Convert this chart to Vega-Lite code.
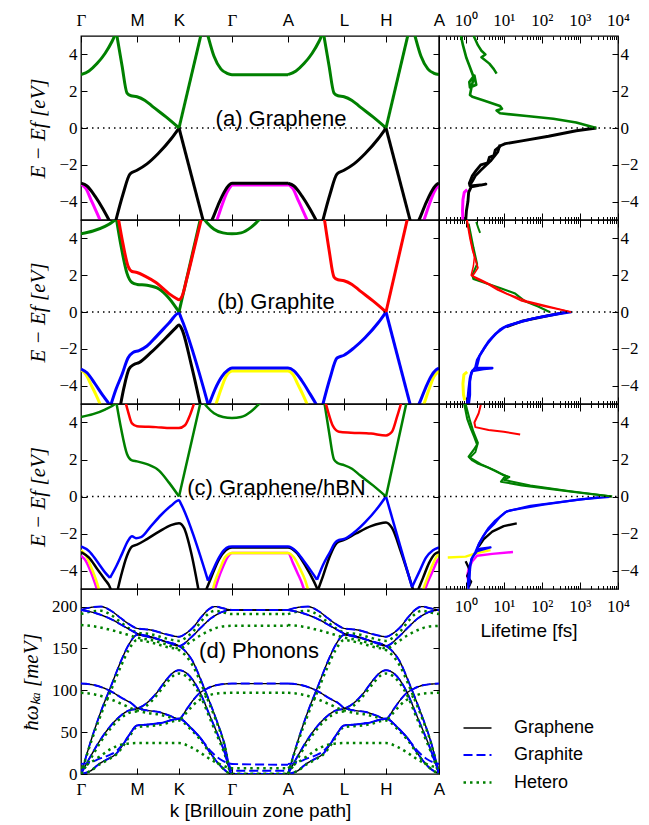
{
"$schema": "https://vega.github.io/schema/vega-lite/v6.json",
"background": "white",
"autosize": {"type": "pad"},
"padding": {"left": 19, "top": 6, "right": 5, "bottom": 5},
"config": {
 "view": {"stroke": "black", "strokeWidth": 1.3},
 "axis": {"domain": false, "grid": false, "tickColor": "black", "tickWidth": 1, "labelColor": "black", "titleColor": "black", "labelFont": "Liberation Serif", "labelFontSize": 17, "titleFontWeight": "normal", "labelOverlap": false, "labelFlush": false}
},
"datasets": {
 "A": [
  {"c":"a8","k":0,"e":-3.05},{"c":"a8","k":5,"e":-3.3},{"c":"a8","k":10,"e":-3.9},{"c":"a8","k":15,"e":-4.5},{"c":"a8","k":19,"e":-5},{"c":"a8","k":21,"e":-5.3},
  {"c":"a10","k":134,"e":-5.3},{"c":"a10","k":136,"e":-5},{"c":"a10","k":141,"e":-4.2},{"c":"a10","k":146,"e":-3.5},{"c":"a10","k":150,"e":-3.15},{"c":"a10","k":151,"e":-3.1},{"c":"a10","k":207,"e":-3.1},
  {"c":"a7","k":0,"e":-3.0},{"c":"a7","k":6,"e":-3.15},{"c":"a7","k":14,"e":-3.7},{"c":"a7","k":22,"e":-4.4},{"c":"a7","k":28,"e":-5},{"c":"a7","k":31,"e":-5.3},
  {"c":"a9","k":128,"e":-5.3},{"c":"a9","k":131,"e":-5},{"c":"a9","k":137,"e":-4.2},{"c":"a9","k":143,"e":-3.5},{"c":"a9","k":148,"e":-3.1},{"c":"a9","k":151,"e":-3.0},{"c":"a9","k":207,"e":-3.0},
  {"c":"a5","k":34,"e":-5.2},{"c":"a5","k":42,"e":-3.6},{"c":"a5","k":49,"e":-2.5},{"c":"a5","k":56,"e":-2.3},{"c":"a5","k":66,"e":-1.95},{"c":"a5","k":77,"e":-1.4},{"c":"a5","k":90,"e":-0.6},{"c":"a5","k":98,"e":0},
  {"c":"a6","k":98,"e":0},{"c":"a6","k":123,"e":-5.2},
  {"c":"a1","k":0,"e":2.9},{"c":"a1","k":8,"e":3.1},{"c":"a1","k":16,"e":3.5},{"c":"a1","k":24,"e":4.05},{"c":"a1","k":31,"e":4.7},{"c":"a1","k":36,"e":5.3},
  {"c":"a2","k":35,"e":5.3},{"c":"a2","k":41,"e":3.4},{"c":"a2","k":46,"e":1.9},{"c":"a2","k":50,"e":1.75},{"c":"a2","k":56,"e":1.7},{"c":"a2","k":64,"e":1.5},{"c":"a2","k":72,"e":1.15},{"c":"a2","k":85,"e":0.6},{"c":"a2","k":98,"e":0},
  {"c":"a3","k":98,"e":0},{"c":"a3","k":121,"e":5.3},
  {"c":"a4","k":124,"e":5.6},{"c":"a4","k":127,"e":5},{"c":"a4","k":133,"e":3.9},{"c":"a4","k":140,"e":3.2},{"c":"a4","k":146,"e":2.97},{"c":"a4","k":151,"e":2.9},{"c":"a4","k":207,"e":2.9}
 ],
 "B": [
  {"c":"b9","k":0,"e":-3.15},{"c":"b9","k":5,"e":-3.4},{"c":"b9","k":10,"e":-3.95},{"c":"b9","k":15,"e":-4.5},{"c":"b9","k":19,"e":-5},{"c":"b9","k":21,"e":-5.3},
  {"c":"b11","k":133,"e":-5.3},{"c":"b11","k":135,"e":-5},{"c":"b11","k":140,"e":-4.2},{"c":"b11","k":145,"e":-3.5},{"c":"b11","k":149,"e":-3.25},{"c":"b11","k":151,"e":-3.2},{"c":"b11","k":207,"e":-3.2},{"c":"b11","k":212,"e":-3.4},{"c":"b11","k":217,"e":-3.95},{"c":"b11","k":222,"e":-4.5},{"c":"b11","k":226,"e":-5},{"c":"b11","k":228,"e":-5.3},
  {"c":"b17","k":341,"e":-5.3},{"c":"b17","k":343,"e":-5},{"c":"b17","k":348,"e":-4.2},{"c":"b17","k":353,"e":-3.5},{"c":"b17","k":357,"e":-3.25},{"c":"b17","k":358,"e":-3.2},
  {"c":"b7","k":39,"e":-5.2},{"c":"b7","k":43,"e":-4.1},{"c":"b7","k":48,"e":-3.1},{"c":"b7","k":53,"e":-2.85},{"c":"b7","k":58,"e":-2.75},{"c":"b7","k":70,"e":-2.2},{"c":"b7","k":85,"e":-1.4},{"c":"b7","k":95,"e":-0.85},{"c":"b7","k":98,"e":-0.7},{"c":"b7","k":101,"e":-0.95},{"c":"b7","k":110,"e":-2.8},{"c":"b7","k":120,"e":-5.2},
  {"c":"b8","k":0,"e":-3.1},{"c":"b8","k":6,"e":-3.3},{"c":"b8","k":14,"e":-3.9},{"c":"b8","k":22,"e":-4.55},{"c":"b8","k":28,"e":-5},{"c":"b8","k":31,"e":-5.3},
  {"c":"b10","k":125,"e":-5.3},{"c":"b10","k":128,"e":-5},{"c":"b10","k":134,"e":-4.2},{"c":"b10","k":141,"e":-3.5},{"c":"b10","k":147,"e":-3.15},{"c":"b10","k":151,"e":-3.05},{"c":"b10","k":207,"e":-3.05},{"c":"b10","k":213,"e":-3.2},{"c":"b10","k":221,"e":-3.75},{"c":"b10","k":229,"e":-4.45},{"c":"b10","k":235,"e":-5},{"c":"b10","k":238,"e":-5.3},
  {"c":"b16","k":335,"e":-5.3},{"c":"b16","k":338,"e":-5},{"c":"b16","k":344,"e":-4.2},{"c":"b16","k":350,"e":-3.5},{"c":"b16","k":355,"e":-3.15},{"c":"b16","k":358,"e":-3.05},
  {"c":"b6","k":29,"e":-5.2},{"c":"b6","k":35,"e":-4.2},{"c":"b6","k":41,"e":-3.4},{"c":"b6","k":47,"e":-2.5},{"c":"b6","k":52,"e":-2.2},{"c":"b6","k":58,"e":-2.1},{"c":"b6","k":66,"e":-1.85},{"c":"b6","k":75,"e":-1.35},{"c":"b6","k":88,"e":-0.6},{"c":"b6","k":98,"e":-0.05},{"c":"b6","k":100,"e":-0.3},{"c":"b6","k":128,"e":-5.2},
  {"c":"b14","k":241,"e":-5.2},{"c":"b14","k":249,"e":-3.6},{"c":"b14","k":256,"e":-2.5},{"c":"b14","k":263,"e":-2.35},{"c":"b14","k":273,"e":-1.95},{"c":"b14","k":284,"e":-1.4},{"c":"b14","k":297,"e":-0.6},{"c":"b14","k":305,"e":0},
  {"c":"b15","k":305,"e":0},{"c":"b15","k":330,"e":-5.2},
  {"c":"b1","k":0,"e":4.25},{"c":"b1","k":12,"e":4.4},{"c":"b1","k":24,"e":4.65},{"c":"b1","k":34,"e":5},{"c":"b1","k":38,"e":5.2},
  {"c":"b2","k":121,"e":5.2},{"c":"b2","k":126,"e":4.85},{"c":"b2","k":133,"e":4.5},{"c":"b2","k":142,"e":4.3},{"c":"b2","k":151,"e":4.25},{"c":"b2","k":160,"e":4.3},{"c":"b2","k":170,"e":4.6},{"c":"b2","k":178,"e":5},{"c":"b2","k":182,"e":5.2},
  {"c":"b4","k":35,"e":5.2},{"c":"b4","k":40,"e":3.6},{"c":"b4","k":46,"e":2.1},{"c":"b4","k":51,"e":1.6},{"c":"b4","k":56,"e":1.5},{"c":"b4","k":66,"e":1.45},{"c":"b4","k":78,"e":1.25},{"c":"b4","k":88,"e":0.75},{"c":"b4","k":98,"e":0},
  {"c":"b5","k":98,"e":0},{"c":"b5","k":120,"e":5.2},
  {"c":"b3","k":37,"e":5.2},{"c":"b3","k":42,"e":3.7},{"c":"b3","k":47,"e":2.5},{"c":"b3","k":51,"e":2.2},{"c":"b3","k":56,"e":2.15},{"c":"b3","k":64,"e":1.95},{"c":"b3","k":75,"e":1.6},{"c":"b3","k":88,"e":1.0},{"c":"b3","k":95,"e":0.75},{"c":"b3","k":98,"e":0.67},{"c":"b3","k":101,"e":0.85},{"c":"b3","k":106,"e":1.85},{"c":"b3","k":113,"e":3.4},{"c":"b3","k":121,"e":5.2},
  {"c":"b12","k":243,"e":5.2},{"c":"b12","k":248,"e":3.4},{"c":"b12","k":253,"e":1.9},{"c":"b12","k":257,"e":1.75},{"c":"b12","k":263,"e":1.7},{"c":"b12","k":271,"e":1.5},{"c":"b12","k":279,"e":1.15},{"c":"b12","k":292,"e":0.6},{"c":"b12","k":305,"e":0},
  {"c":"b13","k":305,"e":0},{"c":"b13","k":327,"e":5.2}
 ],
 "C": [
  {"c":"c9","k":0,"e":-3.2},{"c":"c9","k":5,"e":-3.5},{"c":"c9","k":10,"e":-4.1},{"c":"c9","k":14,"e":-4.7},{"c":"c9","k":17,"e":-5.2},
  {"c":"c14","k":133,"e":-5.2},{"c":"c14","k":137,"e":-4.5},{"c":"c14","k":142,"e":-3.8},{"c":"c14","k":147,"e":-3.25},{"c":"c14","k":151,"e":-3.05},{"c":"c14","k":207,"e":-3.05},{"c":"c14","k":212,"e":-3.6},{"c":"c14","k":217,"e":-4.2},{"c":"c14","k":221,"e":-4.7},{"c":"c14","k":224,"e":-5.2},
  {"c":"c25","k":343,"e":-5.2},{"c":"c25","k":347,"e":-4.6},{"c":"c25","k":352,"e":-4.0},{"c":"c25","k":356,"e":-3.5},{"c":"c25","k":358,"e":-3.35},
  {"c":"c8","k":0,"e":-2.9},{"c":"c8","k":5,"e":-3.2},{"c":"c8","k":10,"e":-3.8},{"c":"c8","k":15,"e":-4.5},{"c":"c8","k":19,"e":-5.2},
  {"c":"c13","k":131,"e":-5.2},{"c":"c13","k":134,"e":-4.6},{"c":"c13","k":139,"e":-3.9},{"c":"c13","k":144,"e":-3.3},{"c":"c13","k":148,"e":-3.1},{"c":"c13","k":151,"e":-3.05},{"c":"c13","k":207,"e":-3.05},{"c":"c13","k":213,"e":-3.3},{"c":"c13","k":219,"e":-3.9},{"c":"c13","k":224,"e":-4.5},{"c":"c13","k":228,"e":-5.2},
  {"c":"c24","k":341,"e":-5.2},{"c":"c24","k":345,"e":-4.6},{"c":"c24","k":350,"e":-3.9},{"c":"c24","k":355,"e":-3.3},{"c":"c24","k":358,"e":-3.1},
  {"c":"c6","k":0,"e":-3.0},{"c":"c6","k":8,"e":-3.3},{"c":"c6","k":16,"e":-3.9},{"c":"c6","k":24,"e":-4.5},{"c":"c6","k":28,"e":-4.8},{"c":"c6","k":31,"e":-5.2},
  {"c":"c7","k":36,"e":-5.2},{"c":"c7","k":40,"e":-4.3},{"c":"c7","k":46,"e":-3.2},{"c":"c7","k":51,"e":-2.7},{"c":"c7","k":56,"e":-2.6},{"c":"c7","k":66,"e":-2.3},{"c":"c7","k":78,"e":-1.9},{"c":"c7","k":90,"e":-1.55},{"c":"c7","k":98,"e":-1.45},{"c":"c7","k":103,"e":-1.7},{"c":"c7","k":110,"e":-3.0},{"c":"c7","k":118,"e":-5.2},
  {"c":"c15","k":124,"e":-5.2},{"c":"c15","k":130,"e":-4.4},{"c":"c15","k":138,"e":-3.4},{"c":"c15","k":145,"e":-2.9},{"c":"c15","k":151,"e":-2.75},{"c":"c15","k":207,"e":-2.75},{"c":"c15","k":215,"e":-3.0},{"c":"c15","k":225,"e":-3.8},{"c":"c15","k":233,"e":-4.6},{"c":"c15","k":238,"e":-5.2},
  {"c":"c22","k":236,"e":-5.2},{"c":"c22","k":242,"e":-4.3},{"c":"c22","k":249,"e":-3.2},{"c":"c22","k":256,"e":-2.5},{"c":"c22","k":263,"e":-2.35},{"c":"c22","k":275,"e":-2.0},{"c":"c22","k":290,"e":-1.6},{"c":"c22","k":305,"e":-1.4},{"c":"c22","k":311,"e":-1.7},{"c":"c22","k":320,"e":-3.0},{"c":"c22","k":333,"e":-5.2},
  {"c":"c23","k":336,"e":-5.2},{"c":"c23","k":342,"e":-4.4},{"c":"c23","k":348,"e":-3.6},{"c":"c23","k":354,"e":-3.1},{"c":"c23","k":358,"e":-3.0},
  {"c":"c10","k":0,"e":-2.7},{"c":"c10","k":8,"e":-2.95},{"c":"c10","k":16,"e":-3.5},{"c":"c10","k":24,"e":-4.1},{"c":"c10","k":29,"e":-4.4},
  {"c":"c11","k":29,"e":-4.4},{"c":"c11","k":35,"e":-3.8},{"c":"c11","k":41,"e":-3.1},{"c":"c11","k":47,"e":-2.4},{"c":"c11","k":51,"e":-2.15},{"c":"c11","k":55,"e":-2.25},{"c":"c11","k":60,"e":-2.2},{"c":"c11","k":70,"e":-1.6},{"c":"c11","k":80,"e":-1.0},{"c":"c11","k":90,"e":-0.5},{"c":"c11","k":98,"e":-0.2},{"c":"c11","k":100,"e":-0.4},{"c":"c11","k":127,"e":-4.55},
  {"c":"c12","k":127,"e":-4.55},{"c":"c12","k":131,"e":-4.1},{"c":"c12","k":137,"e":-3.4},{"c":"c12","k":143,"e":-2.9},{"c":"c12","k":148,"e":-2.72},{"c":"c12","k":151,"e":-2.7},{"c":"c12","k":207,"e":-2.7},{"c":"c12","k":215,"e":-2.95},{"c":"c12","k":223,"e":-3.5},{"c":"c12","k":231,"e":-4.1},{"c":"c12","k":236,"e":-4.5},
  {"c":"c19","k":236,"e":-4.5},{"c":"c19","k":242,"e":-3.7},{"c":"c19","k":249,"e":-3.0},{"c":"c19","k":254,"e":-2.5},{"c":"c19","k":258,"e":-2.35},{"c":"c19","k":263,"e":-2.3},{"c":"c19","k":273,"e":-1.95},{"c":"c19","k":284,"e":-1.4},{"c":"c19","k":297,"e":-0.6},{"c":"c19","k":305,"e":0},
  {"c":"c20","k":305,"e":0},{"c":"c20","k":331,"e":-4.9},
  {"c":"c21","k":331,"e":-4.9},{"c":"c21","k":338,"e":-4.1},{"c":"c21","k":345,"e":-3.3},{"c":"c21","k":352,"e":-2.9},{"c":"c21","k":358,"e":-2.75},
  {"c":"c1","k":0,"e":4.3},{"c":"c1","k":12,"e":4.45},{"c":"c1","k":24,"e":4.7},{"c":"c1","k":34,"e":5},{"c":"c1","k":38,"e":5.2},
  {"c":"c2","k":121,"e":5.2},{"c":"c2","k":126,"e":4.85},{"c":"c2","k":133,"e":4.5},{"c":"c2","k":142,"e":4.3},{"c":"c2","k":151,"e":4.25},{"c":"c2","k":160,"e":4.3},{"c":"c2","k":170,"e":4.6},{"c":"c2","k":178,"e":5},{"c":"c2","k":182,"e":5.2},
  {"c":"c4","k":35,"e":5.2},{"c":"c4","k":40,"e":3.7},{"c":"c4","k":46,"e":2.3},{"c":"c4","k":51,"e":1.95},{"c":"c4","k":56,"e":1.9},{"c":"c4","k":66,"e":1.75},{"c":"c4","k":78,"e":1.4},{"c":"c4","k":88,"e":0.75},{"c":"c4","k":98,"e":0},
  {"c":"c5","k":98,"e":0},{"c":"c5","k":120,"e":5.2},
  {"c":"c17","k":243,"e":5.2},{"c":"c17","k":248,"e":3.5},{"c":"c17","k":253,"e":2.0},{"c":"c17","k":257,"e":1.8},{"c":"c17","k":263,"e":1.7},{"c":"c17","k":271,"e":1.5},{"c":"c17","k":279,"e":1.15},{"c":"c17","k":292,"e":0.6},{"c":"c17","k":305,"e":0},
  {"c":"c18","k":305,"e":0},{"c":"c18","k":326,"e":5.2},
  {"c":"c3","k":44,"e":5.2},{"c":"c3","k":47,"e":4.6},{"c":"c3","k":51,"e":3.95},{"c":"c3","k":56,"e":3.8},{"c":"c3","k":75,"e":3.75},{"c":"c3","k":90,"e":3.7},{"c":"c3","k":98,"e":3.7},{"c":"c3","k":104,"e":3.85},{"c":"c3","k":109,"e":4.4},{"c":"c3","k":114,"e":5.2},
  {"c":"c16","k":244,"e":5.2},{"c":"c16","k":247,"e":4.6},{"c":"c16","k":252,"e":3.8},{"c":"c16","k":258,"e":3.5},{"c":"c16","k":270,"e":3.45},{"c":"c16","k":290,"e":3.4},{"c":"c16","k":305,"e":3.3},{"c":"c16","k":311,"e":3.5},{"c":"c16","k":316,"e":4.3},{"c":"c16","k":321,"e":5.2}
 ],
 "LA": [
  {"c":"la5","t":1.1,"e":-3.35},{"c":"la5","t":0.92,"e":-3.5},{"c":"la5","t":0.85,"e":-3.9},{"c":"la5","t":0.83,"e":-4.5},{"c":"la5","t":0.85,"e":-5.1},
  {"c":"la3","t":2700,"e":0},{"c":"la3","t":800,"e":-0.15},{"c":"la3","t":150,"e":-0.45},{"c":"la3","t":30,"e":-0.7},{"c":"la3","t":11,"e":-0.85},{"c":"la3","t":8.5,"e":-0.95},{"c":"la3","t":6,"e":-1.2},{"c":"la3","t":5.5,"e":-1.5},{"c":"la3","t":4.2,"e":-1.6},{"c":"la3","t":3.8,"e":-1.9},{"c":"la3","t":2.5,"e":-2.0},{"c":"la3","t":1.9,"e":-2.3},{"c":"la3","t":1.5,"e":-2.6},{"c":"la3","t":1.25,"e":-3.0},{"c":"la3","t":1.3,"e":-3.15},{"c":"la3","t":2.5,"e":-3.1},{"c":"la3","t":3.4,"e":-3.05},{"c":"la3","t":1.4,"e":-3.2},{"c":"la3","t":1.2,"e":-3.5},{"c":"la3","t":1.15,"e":-4.0},{"c":"la3","t":1.05,"e":-4.5},{"c":"la3","t":1.0,"e":-5.1},
  {"c":"la4","t":8,"e":-0.9},{"c":"la4","t":7,"e":-1.3},{"c":"la4","t":4.5,"e":-1.8},{"c":"la4","t":2.5,"e":-2.3},{"c":"la4","t":1.8,"e":-2.6},{"c":"la4","t":1.5,"e":-2.9},{"c":"la4","t":1.3,"e":-3.1},
  {"c":"la1","t":0.74,"e":5.1},{"c":"la1","t":0.85,"e":4.5},{"c":"la1","t":1.05,"e":3.8},{"c":"la1","t":1.3,"e":3.3},{"c":"la1","t":1.6,"e":2.8},{"c":"la1","t":1.25,"e":2.5},{"c":"la1","t":1.3,"e":2.2},{"c":"la1","t":1.9,"e":2.35},{"c":"la1","t":1.7,"e":2.85},{"c":"la1","t":1.45,"e":2.3},{"c":"la1","t":1.3,"e":1.8},{"c":"la1","t":1.5,"e":1.7},{"c":"la1","t":3,"e":1.5},{"c":"la1","t":8,"e":1.2},{"c":"la1","t":9,"e":1.05},{"c":"la1","t":6.5,"e":0.95},{"c":"la1","t":8,"e":0.8},{"c":"la1","t":40,"e":0.65},{"c":"la1","t":200,"e":0.5},{"c":"la1","t":800,"e":0.3},{"c":"la1","t":2700,"e":0},
  {"c":"la2","t":1.55,"e":5.1},{"c":"la2","t":2.1,"e":4.5},{"c":"la2","t":2.6,"e":4.2},{"c":"la2","t":3.3,"e":4.0},{"c":"la2","t":2.6,"e":3.85},{"c":"la2","t":4.2,"e":3.5},{"c":"la2","t":5.5,"e":3.2},{"c":"la2","t":6.5,"e":2.95}
 ],
 "LB": [
  {"c":"lb8","t":1.1,"e":-3.25},{"c":"lb8","t":0.9,"e":-3.4},{"c":"lb8","t":0.85,"e":-3.9},{"c":"lb8","t":0.88,"e":-4.5},{"c":"lb8","t":0.95,"e":-4.8},
  {"c":"lb5","t":470,"e":0},{"c":"lb5","t":150,"e":-0.2},{"c":"lb5","t":30,"e":-0.5},{"c":"lb5","t":12,"e":-0.8},
  {"c":"lb6","t":600,"e":0},{"c":"lb6","t":300,"e":-0.1},{"c":"lb6","t":60,"e":-0.35},{"c":"lb6","t":15,"e":-0.7},{"c":"lb6","t":10,"e":-0.85},{"c":"lb6","t":6,"e":-1.2},{"c":"lb6","t":4,"e":-1.6},{"c":"lb6","t":3,"e":-2.0},{"c":"lb6","t":2.3,"e":-2.4},{"c":"lb6","t":2.0,"e":-2.9},{"c":"lb6","t":1.9,"e":-3.05},{"c":"lb6","t":5,"e":-3.05},{"c":"lb6","t":3,"e":-3.1},{"c":"lb6","t":1.5,"e":-3.2},{"c":"lb6","t":1.3,"e":-3.6},{"c":"lb6","t":1.2,"e":-4.2},{"c":"lb6","t":1.15,"e":-4.6},{"c":"lb6","t":1.1,"e":-5.1},
  {"c":"lb7","t":470,"e":0.02},{"c":"lb7","t":100,"e":-0.25},{"c":"lb7","t":30,"e":-0.5},{"c":"lb7","t":12,"e":-0.75},{"c":"lb7","t":8,"e":-0.95},{"c":"lb7","t":5,"e":-1.4},{"c":"lb7","t":3.5,"e":-1.8},{"c":"lb7","t":2.6,"e":-2.2},{"c":"lb7","t":2.0,"e":-2.6},{"c":"lb7","t":1.8,"e":-3.0},{"c":"lb7","t":1.4,"e":-3.3},{"c":"lb7","t":1.3,"e":-3.8},{"c":"lb7","t":1.3,"e":-4.5},{"c":"lb7","t":1.2,"e":-5.1},
  {"c":"lb3","t":1.2,"e":4.8},{"c":"lb3","t":1.6,"e":3.5},{"c":"lb3","t":2.0,"e":2.6},{"c":"lb3","t":1.5,"e":2.0},{"c":"lb3","t":1.6,"e":1.8},{"c":"lb3","t":3,"e":1.6},{"c":"lb3","t":8,"e":1.3},{"c":"lb3","t":20,"e":1.0},{"c":"lb3","t":35,"e":0.6},{"c":"lb3","t":80,"e":0.3},{"c":"lb3","t":160,"e":0},
  {"c":"lb4","t":1.9,"e":4.9},{"c":"lb4","t":2.2,"e":4.5},{"c":"lb4","t":2.4,"e":4.3},
  {"c":"lb1","t":1.05,"e":5.1},{"c":"lb1","t":1.3,"e":4.0},{"c":"lb1","t":1.5,"e":3.4},{"c":"lb1","t":1.9,"e":2.7},{"c":"lb1","t":2.1,"e":2.4},{"c":"lb1","t":1.7,"e":2.1},{"c":"lb1","t":1.5,"e":1.95},{"c":"lb1","t":2.0,"e":1.8},{"c":"lb1","t":4,"e":1.5},{"c":"lb1","t":7,"e":1.2},{"c":"lb1","t":15,"e":0.9},{"c":"lb1","t":30,"e":0.6},{"c":"lb1","t":120,"e":0.3},{"c":"lb1","t":590,"e":0},
  {"c":"lb2","t":1.1,"e":5},{"c":"lb2","t":1.4,"e":3.8},{"c":"lb2","t":1.7,"e":3.0},{"c":"lb2","t":1.6,"e":2.5},{"c":"lb2","t":1.4,"e":2.0},{"c":"lb2","t":2.5,"e":1.75},{"c":"lb2","t":5,"e":1.45},{"c":"lb2","t":12,"e":1.0},{"c":"lb2","t":40,"e":0.6},{"c":"lb2","t":300,"e":0.15},{"c":"lb2","t":590,"e":0}
 ],
 "LC": [
  {"c":"lc7","t":0.34,"e":-3.3},{"c":"lc7","t":1.0,"e":-3.25},{"c":"lc7","t":2,"e":-3.05},{"c":"lc7","t":4.5,"e":-2.9},
  {"c":"lc6","t":17.5,"e":-3.0},{"c":"lc6","t":5,"e":-3.1},{"c":"lc6","t":2.0,"e":-3.2},{"c":"lc6","t":1.5,"e":-3.5},{"c":"lc6","t":1.2,"e":-3.9},{"c":"lc6","t":1.1,"e":-4.3},{"c":"lc6","t":1.2,"e":-4.6},
  {"c":"lc4","t":22,"e":-1.45},{"c":"lc4","t":10,"e":-1.6},{"c":"lc4","t":5,"e":-1.9},{"c":"lc4","t":3,"e":-2.3},{"c":"lc4","t":2.2,"e":-2.7},
  {"c":"lc5","t":1.0,"e":-3.5},{"c":"lc5","t":1.3,"e":-4.0},{"c":"lc5","t":1.1,"e":-4.3},{"c":"lc5","t":1.4,"e":-4.6},{"c":"lc5","t":1.2,"e":-4.9},
  {"c":"lc8","t":6000,"e":-0.02},{"c":"lc8","t":1000,"e":-0.15},{"c":"lc8","t":100,"e":-0.45},{"c":"lc8","t":15,"e":-0.75},{"c":"lc8","t":11,"e":-0.85},{"c":"lc8","t":8,"e":-1.1},{"c":"lc8","t":5.5,"e":-1.5},{"c":"lc8","t":3.5,"e":-1.9},{"c":"lc8","t":2.8,"e":-2.2},{"c":"lc8","t":2.2,"e":-2.6},{"c":"lc8","t":2.0,"e":-2.85},{"c":"lc8","t":4.5,"e":-2.75},{"c":"lc8","t":2.0,"e":-2.95},{"c":"lc8","t":1.5,"e":-3.3},{"c":"lc8","t":1.3,"e":-3.7},{"c":"lc8","t":1.2,"e":-4.2},{"c":"lc8","t":1.15,"e":-4.6},{"c":"lc8","t":1.2,"e":-5.1},
  {"c":"lc9","t":3000,"e":-0.05},{"c":"lc9","t":50,"e":-0.5},{"c":"lc9","t":12,"e":-0.8},{"c":"lc9","t":6,"e":-1.3},{"c":"lc9","t":4,"e":-1.7},{"c":"lc9","t":3,"e":-2.1},{"c":"lc9","t":2.3,"e":-2.5},{"c":"lc9","t":1.8,"e":-3.0},{"c":"lc9","t":1.4,"e":-3.4},{"c":"lc9","t":1.3,"e":-4.0},{"c":"lc9","t":1.25,"e":-4.8},
  {"c":"lc1","t":0.9,"e":5.1},{"c":"lc1","t":1.1,"e":4.2},{"c":"lc1","t":1.35,"e":3.7},{"c":"lc1","t":1.7,"e":3.2},{"c":"lc1","t":2.0,"e":2.8},{"c":"lc1","t":1.6,"e":2.5},{"c":"lc1","t":1.2,"e":2.15},{"c":"lc1","t":1.5,"e":1.95},{"c":"lc1","t":2.0,"e":1.8},{"c":"lc1","t":4,"e":1.55},{"c":"lc1","t":8,"e":1.25},{"c":"lc1","t":12,"e":1.1},{"c":"lc1","t":10,"e":1.0},{"c":"lc1","t":8.5,"e":0.8},{"c":"lc1","t":30,"e":0.6},{"c":"lc1","t":180,"e":0.4},{"c":"lc1","t":1000,"e":0.2},{"c":"lc1","t":7000,"e":0},
  {"c":"lc2","t":1.0,"e":5.0},{"c":"lc2","t":1.3,"e":4.1},{"c":"lc2","t":1.6,"e":3.5},{"c":"lc2","t":2.1,"e":2.9},{"c":"lc2","t":1.8,"e":2.4},{"c":"lc2","t":1.3,"e":2.1},{"c":"lc2","t":2.5,"e":1.75},{"c":"lc2","t":6,"e":1.4},{"c":"lc2","t":10,"e":1.15},{"c":"lc2","t":14,"e":1.05},{"c":"lc2","t":10,"e":0.9},{"c":"lc2","t":50,"e":0.6},{"c":"lc2","t":500,"e":0.3},{"c":"lc2","t":7000,"e":0},
  {"c":"lc3","t":2.5,"e":4.95},{"c":"lc3","t":2.2,"e":4.5},{"c":"lc3","t":1.7,"e":4.0},{"c":"lc3","t":1.8,"e":3.75},{"c":"lc3","t":4,"e":3.6},{"c":"lc3","t":10,"e":3.5},{"c":"lc3","t":27,"e":3.35}
 ],
 "P": [
  {"c":"ZA","k":0,"g":0,"t":0,"h":0},{"c":"ZA","k":10,"g":4,"t":4,"h":4},{"c":"ZA","k":18,"g":12,"t":12,"h":11},{"c":"ZA","k":27,"g":18,"t":18,"h":17},{"c":"ZA","k":35,"g":24,"t":24,"h":23},{"c":"ZA","k":42,"g":35,"t":35,"h":33},{"c":"ZA","k":49,"g":48,"t":48,"h":46},{"c":"ZA","k":56,"g":58,"t":58,"h":56},{"c":"ZA","k":66,"g":59,"t":59,"h":57},{"c":"ZA","k":80,"g":61,"t":61,"h":59},{"c":"ZA","k":98,"g":66,"t":66,"h":64},{"c":"ZA","k":110,"g":55,"t":55,"h":53},{"c":"ZA","k":120,"g":42,"t":42,"h":40},{"c":"ZA","k":130,"g":24,"t":24,"h":23},{"c":"ZA","k":140,"g":9,"t":9,"h":9},{"c":"ZA","k":151,"g":0,"t":0,"h":0},{"c":"ZA","k":207,"g":0,"t":0,"h":0},
  {"c":"TA","k":0,"g":0,"t":0,"h":0},{"c":"TA","k":10,"g":22,"t":22,"h":19},{"c":"TA","k":20,"g":42,"t":42,"h":39},{"c":"TA","k":30,"g":58,"t":58,"h":55},{"c":"TA","k":40,"g":70,"t":70,"h":67},{"c":"TA","k":48,"g":76,"t":76,"h":73},{"c":"TA","k":56,"g":78,"t":78,"h":75},{"c":"TA","k":65,"g":84,"t":84,"h":81},{"c":"TA","k":75,"g":96,"t":96,"h":93},{"c":"TA","k":85,"g":112,"t":112,"h":108},{"c":"TA","k":92,"g":121,"t":121,"h":117},{"c":"TA","k":98,"g":124,"t":124,"h":120},{"c":"TA","k":105,"g":121,"t":121,"h":117},{"c":"TA","k":112,"g":112,"t":112,"h":108},{"c":"TA","k":120,"g":95,"t":95,"h":92},{"c":"TA","k":128,"g":72,"t":72,"h":69},{"c":"TA","k":135,"g":52,"t":52,"h":49},{"c":"TA","k":143,"g":28,"t":28,"h":26},{"c":"TA","k":151,"g":0,"t":0,"h":0},{"c":"TA","k":207,"g":0,"t":0,"h":0},
  {"c":"LA","k":0,"g":0,"t":0,"h":0},{"c":"LA","k":10,"g":40,"t":40,"h":38},{"c":"LA","k":20,"g":75,"t":75,"h":71},{"c":"LA","k":30,"g":105,"t":105,"h":100},{"c":"LA","k":40,"g":135,"t":135,"h":129},{"c":"LA","k":48,"g":155,"t":155,"h":149},{"c":"LA","k":56,"g":166,"t":166,"h":160},{"c":"LA","k":70,"g":163,"t":163,"h":157},{"c":"LA","k":85,"g":158,"t":158,"h":152},{"c":"LA","k":98,"g":153,"t":153,"h":148},{"c":"LA","k":105,"g":146,"t":146,"h":141},{"c":"LA","k":112,"g":134,"t":134,"h":129},{"c":"LA","k":120,"g":112,"t":112,"h":108},{"c":"LA","k":128,"g":88,"t":88,"h":85},{"c":"LA","k":135,"g":66,"t":66,"h":64},{"c":"LA","k":143,"g":38,"t":38,"h":37},{"c":"LA","k":151,"g":0,"t":0,"h":0},{"c":"LA","k":207,"g":0,"t":0,"h":0},
  {"c":"ZO","k":0,"g":108,"t":108,"h":97},{"c":"ZO","k":14,"g":106,"t":106,"h":95},{"c":"ZO","k":28,"g":100,"t":100,"h":90},{"c":"ZO","k":42,"g":90,"t":90,"h":83},{"c":"ZO","k":51,"g":84,"t":84,"h":78},{"c":"ZO","k":56,"g":79,"t":79,"h":76},{"c":"ZO","k":66,"g":76,"t":76,"h":73},{"c":"ZO","k":78,"g":74,"t":74,"h":71},{"c":"ZO","k":88,"g":70,"t":70,"h":68},{"c":"ZO","k":98,"g":66,"t":66,"h":65},{"c":"ZO","k":106,"g":78,"t":78,"h":74},{"c":"ZO","k":112,"g":88,"t":88,"h":82},{"c":"ZO","k":118,"g":96,"t":96,"h":88},{"c":"ZO","k":126,"g":102,"t":102,"h":93},{"c":"ZO","k":135,"g":106,"t":106,"h":96},{"c":"ZO","k":151,"g":108,"t":108,"h":97},{"c":"ZO","k":207,"g":108,"t":108,"h":97},
  {"c":"TO","k":0,"g":196,"t":196,"h":191},{"c":"TO","k":10,"g":199,"t":199,"h":194},{"c":"TO","k":20,"g":200,"t":200,"h":195},{"c":"TO","k":30,"g":195,"t":195,"h":190},{"c":"TO","k":40,"g":186,"t":186,"h":181},{"c":"TO","k":48,"g":179,"t":179,"h":174},{"c":"TO","k":56,"g":174,"t":174,"h":169},{"c":"TO","k":70,"g":172,"t":172,"h":167},{"c":"TO","k":85,"g":167,"t":167,"h":162},{"c":"TO","k":98,"g":164,"t":164,"h":159},{"c":"TO","k":105,"g":168,"t":168,"h":163},{"c":"TO","k":112,"g":175,"t":175,"h":170},{"c":"TO","k":120,"g":187,"t":187,"h":182},{"c":"TO","k":128,"g":197,"t":197,"h":192},{"c":"TO","k":134,"g":200,"t":200,"h":195},{"c":"TO","k":142,"g":198,"t":198,"h":193},{"c":"TO","k":151,"g":196,"t":196,"h":191},{"c":"TO","k":207,"g":196,"t":196,"h":191},
  {"c":"LO","k":0,"g":196,"t":196,"h":178},{"c":"LO","k":15,"g":192,"t":192,"h":176},{"c":"LO","k":30,"g":185,"t":185,"h":172},{"c":"LO","k":45,"g":175,"t":175,"h":167},{"c":"LO","k":56,"g":168,"t":168,"h":163},{"c":"LO","k":70,"g":164,"t":164,"h":160},{"c":"LO","k":85,"g":158,"t":158,"h":155},{"c":"LO","k":98,"g":153,"t":153,"h":150},{"c":"LO","k":110,"g":163,"t":163,"h":158},{"c":"LO","k":120,"g":175,"t":175,"h":166},{"c":"LO","k":130,"g":186,"t":186,"h":172},{"c":"LO","k":140,"g":193,"t":193,"h":176},{"c":"LO","k":151,"g":196,"t":196,"h":177},{"c":"LO","k":207,"g":196,"t":196,"h":177},
  {"c":"G1","k":0,"t":12},{"c":"G1","k":10,"t":14},{"c":"G1","k":18,"t":18},{"c":"G1","k":27,"t":22},{"c":"G1","k":35,"t":27},{"c":"G1","k":42,"t":36},{"c":"G1","k":49,"t":48},{"c":"G1","k":56,"t":58},{"c":"G1","k":66,"t":59},{"c":"G1","k":80,"t":61},{"c":"G1","k":98,"t":66},{"c":"G1","k":110,"t":55},{"c":"G1","k":120,"t":42},{"c":"G1","k":130,"t":27},{"c":"G1","k":140,"t":17},{"c":"G1","k":151,"t":12},{"c":"G1","k":207,"t":11},
  {"c":"G2","k":143,"t":28},{"c":"G2","k":147,"t":15},{"c":"G2","k":151,"t":4},{"c":"G2","k":207,"t":4},
  {"c":"H4","k":0,"h":7},{"c":"H4","k":10,"h":14},{"c":"H4","k":20,"h":22},{"c":"H4","k":30,"h":30},{"c":"H4","k":40,"h":35},{"c":"H4","k":56,"h":37},{"c":"H4","k":75,"h":37},{"c":"H4","k":98,"h":37},{"c":"H4","k":110,"h":32},{"c":"H4","k":120,"h":25},{"c":"H4","k":130,"h":17},{"c":"H4","k":140,"h":11},{"c":"H4","k":151,"h":7},{"c":"H4","k":207,"h":7}
 ]
},
"columns": 2,
"spacing": 0,
"bounds": "flush",
"resolve": {"scale": {"color": "independent", "strokeWidth": "independent", "strokeDash": "independent"}},
"concat": [
  {"width": 358, "height": 184,
   "layer": [
    {"data": {"name": "A"}, "mark": {"type": "line", "interpolate": "monotone", "clip": true},
     "encoding": {
      "x": {"field": "k", "type": "quantitative", "scale": {"domain": [0, 358], "nice": false, "zero": false},
            "axis": {"orient": "top", "values": [0,56,98,151,207,263,305,358], "labelExpr": "['Γ','M','K','Γ','A','L','H','A'][indexof([0,56,98,151,207,263,305,358], datum.value)]", "labelFont": {"condition": {"test": "datum.value == 0 || datum.value == 151", "value": "Liberation Serif"}, "value": "Liberation Sans"}, "labelFontSize": 17, "tickSize": -6, "labelPadding": 13, "title": null}},
      "y": {"field": "e", "type": "quantitative", "scale": {"domain": [-5, 5], "nice": false},
            "axis": {"orient": "left", "values": [-4,-2,0,2,4], "tickSize": -6, "labelPadding": 10, "title": "E − Ef [eV]", "titleFont": "Liberation Serif", "titleFontStyle": "italic", "titleFontSize": 21, "titlePadding": 10}},
      "color": {"field": "c", "type": "nominal", "scale": {"domain": ["a8","a10","a7","a9","a5","a6","a1","a2","a3","a4"], "range": ["#ff00ff","#ff00ff","#000000","#000000","#000000","#000000","#008000","#008000","#008000","#008000"]}, "legend": null},
      "strokeWidth": {"field": "c", "type": "ordinal", "scale": {"domain": ["a8","a10","a7","a9","a5","a6","a1","a2","a3","a4"], "range": [3,3,3,3,1.8,1,1.5,2,1,1.5]}, "legend": null},
      "order": {"value": null}}},
    {"data": {"name": "A"}, "transform": [{"filter": "datum.k <= 151"}], "mark": {"type": "line", "interpolate": "monotone", "clip": true},
     "encoding": {
      "x": {"field": "k", "type": "quantitative", "scale": {"domain": [-207, 151], "nice": false, "zero": false}, "axis": null},
      "y": {"field": "e", "type": "quantitative", "scale": {"domain": [-5, 5], "nice": false}, "axis": null},
      "color": {"field": "c", "type": "nominal", "scale": {"domain": ["a8","a10","a7","a9","a5","a6","a1","a2","a3","a4"], "range": ["#ff00ff","#ff00ff","#000000","#000000","#000000","#000000","#008000","#008000","#008000","#008000"]}, "legend": null},
      "strokeWidth": {"field": "c", "type": "ordinal", "scale": {"domain": ["a8","a10","a7","a9","a5","a6","a1","a2","a3","a4"], "range": [3,3,3,3,1.8,1,1.5,2,1,1.5]}, "legend": null},
      "order": {"value": null}}},
    {"data": {"values": [{}]}, "mark": {"type": "rule", "color": "black", "strokeWidth": 1.5, "strokeDash": [1.5, 4]},
     "encoding": {
      "x": {"datum": 0, "type": "quantitative", "scale": {"domain": [0, 358], "nice": false, "zero": false}, "axis": {"orient": "bottom", "values": [56,98,151,207,263,305], "tickSize": -6, "labels": false, "title": null}},
      "x2": {"datum": 358},
      "y": {"datum": 0, "type": "quantitative", "scale": {"domain": [-5, 5], "nice": false}, "axis": {"orient": "right", "values": [-4,-2,0,2,4], "tickSize": -6, "labels": false, "title": null}}}},
    {"data": {"values": [{"lab": "(a) Graphene", "k": 200, "e": 0.12}]}, "mark": {"type": "text", "font": "Liberation Sans", "fontSize": 22, "align": "center", "baseline": "alphabetic", "color": "black"},
     "encoding": {
      "x": {"field": "k", "type": "quantitative", "scale": {"domain": [0, 358], "nice": false, "zero": false}, "axis": null},
      "y": {"field": "e", "type": "quantitative", "axis": null},
      "text": {"field": "lab"}}}
   ],
   "resolve": {"scale": {"x": "independent"}, "axis": {"x": "independent", "y": "independent"}}},
  {"width": 179, "height": 184,
   "layer": [
    {"data": {"name": "LA"}, "mark": {"type": "line", "clip": true, "strokeJoin": "round"},
     "encoding": {
      "x": {"field": "t", "type": "quantitative", "scale": {"type": "log", "domain": [0.2, 10000], "nice": false},
            "axis": {"orient": "top", "values": [0.2,0.3,0.4,0.5,0.6,0.7,0.8,0.9,1,2,3,4,5,6,7,8,9,10,20,30,40,50,60,70,80,90,100,200,300,400,500,600,700,800,900,1000,2000,3000,4000,5000,6000,7000,8000,9000,10000], "tickSize": {"condition": {"test": "indexof([1,10,100,1000,10000], datum.value) >= 0", "value": -7}, "value": -3.5}, "labelExpr": "datum.value == 1 ? '10⁰' : datum.value == 10 ? '10¹' : datum.value == 100 ? '10²' : datum.value == 1000 ? '10³' : datum.value == 10000 ? '10⁴' : ''", "labelPadding": 14, "title": null}},
      "y": {"field": "e", "type": "quantitative", "scale": {"domain": [-5, 5], "nice": false},
            "axis": {"orient": "right", "values": [-4,-2,0,2,4], "tickSize": -6, "labelPadding": 8, "title": null}},
      "color": {"field": "c", "type": "nominal", "scale": {"domain": ["la5","la3","la4","la1","la2"], "range": ["#ff00ff","#000000","#000000","#008000","#008000"]}, "legend": null},
      "strokeWidth": {"field": "c", "type": "ordinal", "scale": {"domain": ["la5","la3","la4","la1","la2"], "range": [3,2.5,1.5,2,1.5]}, "legend": null},
      "order": {"value": null}}},
    {"data": {"values": [{}]}, "mark": {"type": "rule", "color": "black", "strokeWidth": 1.5, "strokeDash": [1.5, 4]},
     "encoding": {
      "x": {"datum": 0.2, "type": "quantitative", "scale": {"type": "log", "domain": [0.2, 10000], "nice": false},
            "axis": {"orient": "bottom", "values": [0.2,0.3,0.4,0.5,0.6,0.7,0.8,0.9,1,2,3,4,5,6,7,8,9,10,20,30,40,50,60,70,80,90,100,200,300,400,500,600,700,800,900,1000,2000,3000,4000,5000,6000,7000,8000,9000,10000], "tickSize": {"condition": {"test": "indexof([1,10,100,1000,10000], datum.value) >= 0", "value": -7}, "value": -3.5}, "labels": false, "title": null}},
      "x2": {"datum": 10000},
      "y": {"datum": 0, "type": "quantitative"}}}
   ],
   "resolve": {"axis": {"x": "independent"}}},
  {"width": 358, "height": 184,
   "layer": [
    {"data": {"name": "B"}, "mark": {"type": "line", "interpolate": "monotone", "clip": true},
     "encoding": {
      "x": {"field": "k", "type": "quantitative", "scale": {"domain": [0, 358], "nice": false, "zero": false},
            "axis": {"orient": "top", "values": [56,98,151,207,263,305], "tickSize": -6, "labels": false, "title": null}},
      "y": {"field": "e", "type": "quantitative", "scale": {"domain": [-5, 5], "nice": false},
            "axis": {"orient": "left", "values": [-4,-2,0,2,4], "tickSize": -6, "labelPadding": 10, "title": "E − Ef [eV]", "titleFont": "Liberation Serif", "titleFontStyle": "italic", "titleFontSize": 21, "titlePadding": 10}},
      "color": {"field": "c", "type": "nominal", "scale": {"domain": ["b9","b11","b17","b7","b8","b10","b16","b6","b14","b15","b1","b2","b4","b5","b3","b12","b13"], "range": ["#ffff00","#ffff00","#ffff00","#000000","#0000ff","#0000ff","#0000ff","#0000ff","#0000ff","#0000ff","#008000","#008000","#008000","#008000","#ff0000","#ff0000","#ff0000"]}, "legend": null},
      "strokeWidth": {"field": "c", "type": "ordinal", "scale": {"domain": ["b9","b11","b17","b7","b8","b10","b16","b6","b14","b15","b1","b2","b4","b5","b3","b12","b13"], "range": [3,3,3,1.8,3.5,3.5,3.5,1.5,1.5,1,2.5,3,2,1,2,1.5,1]}, "legend": null},
      "order": {"value": null}}},
    {"data": {"values": [{}]}, "mark": {"type": "rule", "color": "black", "strokeWidth": 1.5, "strokeDash": [1.5, 4]},
     "encoding": {
      "x": {"datum": 0, "type": "quantitative", "scale": {"domain": [0, 358], "nice": false, "zero": false}, "axis": {"orient": "bottom", "values": [56,98,151,207,263,305], "tickSize": -6, "labels": false, "title": null}},
      "x2": {"datum": 358},
      "y": {"datum": 0, "type": "quantitative", "scale": {"domain": [-5, 5], "nice": false}, "axis": {"orient": "right", "values": [-4,-2,0,2,4], "tickSize": -6, "labels": false, "title": null}}}},
    {"data": {"values": [{"lab": "(b) Graphite", "k": 195, "e": 0.15}]}, "mark": {"type": "text", "font": "Liberation Sans", "fontSize": 22, "align": "center", "baseline": "alphabetic", "color": "black"},
     "encoding": {
      "x": {"field": "k", "type": "quantitative", "scale": {"domain": [0, 358], "nice": false, "zero": false}, "axis": null},
      "y": {"field": "e", "type": "quantitative", "axis": null},
      "text": {"field": "lab"}}}
   ],
   "resolve": {"scale": {"x": "independent"}, "axis": {"x": "independent", "y": "independent"}}},
  {"width": 179, "height": 184,
   "layer": [
    {"data": {"name": "LB"}, "mark": {"type": "line", "clip": true, "strokeJoin": "round"},
     "encoding": {
      "x": {"field": "t", "type": "quantitative", "scale": {"type": "log", "domain": [0.2, 10000], "nice": false},
            "axis": {"orient": "top", "values": [0.2,0.3,0.4,0.5,0.6,0.7,0.8,0.9,1,2,3,4,5,6,7,8,9,10,20,30,40,50,60,70,80,90,100,200,300,400,500,600,700,800,900,1000,2000,3000,4000,5000,6000,7000,8000,9000,10000], "tickSize": {"condition": {"test": "indexof([1,10,100,1000,10000], datum.value) >= 0", "value": -7}, "value": -3.5}, "labels": false, "title": null}},
      "y": {"field": "e", "type": "quantitative", "scale": {"domain": [-5, 5], "nice": false},
            "axis": {"orient": "right", "values": [-4,-2,0,2,4], "tickSize": -6, "labelPadding": 8, "title": null}},
      "color": {"field": "c", "type": "nominal", "scale": {"domain": ["lb8","lb5","lb6","lb7","lb3","lb4","lb1","lb2"], "range": ["#ffff00","#000000","#0000ff","#0000ff","#008000","#008000","#ff0000","#ff0000"]}, "legend": null},
      "strokeWidth": {"field": "c", "type": "ordinal", "scale": {"domain": ["lb8","lb5","lb6","lb7","lb3","lb4","lb1","lb2"], "range": [3,1.5,3,2,1.5,1.5,3,2]}, "legend": null},
      "order": {"value": null}}},
    {"data": {"values": [{}]}, "mark": {"type": "rule", "color": "black", "strokeWidth": 1.5, "strokeDash": [1.5, 4]},
     "encoding": {
      "x": {"datum": 0.2, "type": "quantitative", "scale": {"type": "log", "domain": [0.2, 10000], "nice": false},
            "axis": {"orient": "bottom", "values": [0.2,0.3,0.4,0.5,0.6,0.7,0.8,0.9,1,2,3,4,5,6,7,8,9,10,20,30,40,50,60,70,80,90,100,200,300,400,500,600,700,800,900,1000,2000,3000,4000,5000,6000,7000,8000,9000,10000], "tickSize": {"condition": {"test": "indexof([1,10,100,1000,10000], datum.value) >= 0", "value": -7}, "value": -3.5}, "labels": false, "title": null}},
      "x2": {"datum": 10000},
      "y": {"datum": 0, "type": "quantitative"}}}
   ],
   "resolve": {"axis": {"x": "independent"}}},
  {"width": 358, "height": 185,
   "layer": [
    {"data": {"name": "C"}, "mark": {"type": "line", "interpolate": "monotone", "clip": true},
     "encoding": {
      "x": {"field": "k", "type": "quantitative", "scale": {"domain": [0, 358], "nice": false, "zero": false},
            "axis": {"orient": "top", "values": [56,98,151,207,263,305], "tickSize": -6, "labels": false, "title": null}},
      "y": {"field": "e", "type": "quantitative", "scale": {"domain": [-5, 5], "nice": false},
            "axis": {"orient": "left", "values": [-4,-2,0,2,4], "tickSize": -6, "labelPadding": 10, "title": "E − Ef [eV]", "titleFont": "Liberation Serif", "titleFontStyle": "italic", "titleFontSize": 21, "titlePadding": 10}},
      "color": {"field": "c", "type": "nominal", "scale": {"domain": ["c9","c14","c25","c8","c13","c24","c6","c7","c15","c22","c23","c10","c11","c12","c19","c20","c21","c1","c2","c4","c5","c17","c18","c3","c16"], "range": ["#ff00ff","#ff00ff","#ff00ff","#ffff00","#ffff00","#ffff00","#000000","#000000","#000000","#000000","#000000","#0000ff","#0000ff","#0000ff","#0000ff","#0000ff","#0000ff","#008000","#008000","#008000","#008000","#008000","#008000","#ff0000","#ff0000"]}, "legend": null},
      "strokeWidth": {"field": "c", "type": "ordinal", "scale": {"domain": ["c9","c14","c25","c8","c13","c24","c6","c7","c15","c22","c23","c10","c11","c12","c19","c20","c21","c1","c2","c4","c5","c17","c18","c3","c16"], "range": [2.5,2.5,2.5,4,6,3,3,2.5,2.5,2.5,2.5,3.5,1.8,3.5,2.5,1,3,2.5,3,2,1,1.8,1,4,1.5]}, "legend": null},
      "order": {"value": null}}},
    {"data": {"values": [{}]}, "mark": {"type": "rule", "color": "black", "strokeWidth": 1.5, "strokeDash": [1.5, 4]},
     "encoding": {
      "x": {"datum": 0, "type": "quantitative", "scale": {"domain": [0, 358], "nice": false, "zero": false}, "axis": {"orient": "bottom", "values": [56,98,151,207,263,305], "tickSize": -6, "labels": false, "title": null}},
      "x2": {"datum": 358},
      "y": {"datum": 0, "type": "quantitative", "scale": {"domain": [-5, 5], "nice": false}, "axis": {"orient": "right", "values": [-4,-2,0,2,4], "tickSize": -6, "labels": false, "title": null}}}},
    {"data": {"values": [{"lab": "(c) Graphene/hBN", "k": 195.5, "e": 0.09}]}, "mark": {"type": "text", "font": "Liberation Sans", "fontSize": 22, "align": "center", "baseline": "alphabetic", "color": "black"},
     "encoding": {
      "x": {"field": "k", "type": "quantitative", "scale": {"domain": [0, 358], "nice": false, "zero": false}, "axis": null},
      "y": {"field": "e", "type": "quantitative", "axis": null},
      "text": {"field": "lab"}}}
   ],
   "resolve": {"scale": {"x": "independent"}, "axis": {"x": "independent", "y": "independent"}}},
  {"width": 179, "height": 185,
   "layer": [
    {"data": {"name": "LC"}, "mark": {"type": "line", "clip": true, "strokeJoin": "round"},
     "encoding": {
      "x": {"field": "t", "type": "quantitative", "scale": {"type": "log", "domain": [0.2, 10000], "nice": false},
            "axis": {"orient": "top", "values": [0.2,0.3,0.4,0.5,0.6,0.7,0.8,0.9,1,2,3,4,5,6,7,8,9,10,20,30,40,50,60,70,80,90,100,200,300,400,500,600,700,800,900,1000,2000,3000,4000,5000,6000,7000,8000,9000,10000], "tickSize": {"condition": {"test": "indexof([1,10,100,1000,10000], datum.value) >= 0", "value": -7}, "value": -3.5}, "labels": false, "title": null}},
      "y": {"field": "e", "type": "quantitative", "scale": {"domain": [-5, 5], "nice": false},
            "axis": {"orient": "right", "values": [-4,-2,0,2,4], "tickSize": -6, "labelPadding": 8, "title": null}},
      "color": {"field": "c", "type": "nominal", "scale": {"domain": ["lc7","lc6","lc4","lc5","lc8","lc9","lc1","lc2","lc3"], "range": ["#ffff00","#ff00ff","#000000","#000000","#0000ff","#0000ff","#008000","#008000","#ff0000"]}, "legend": null},
      "strokeWidth": {"field": "c", "type": "ordinal", "scale": {"domain": ["lc7","lc6","lc4","lc5","lc8","lc9","lc1","lc2","lc3"], "range": [2.5,2,2,1.5,2.5,2,2,2,2.5]}, "legend": null},
      "order": {"value": null}}},
    {"data": {"values": [{}]}, "mark": {"type": "rule", "color": "black", "strokeWidth": 1.5, "strokeDash": [1.5, 4]},
     "encoding": {
      "x": {"datum": 0.2, "type": "quantitative", "scale": {"type": "log", "domain": [0.2, 10000], "nice": false},
            "axis": {"orient": "bottom", "values": [0.2,0.3,0.4,0.5,0.6,0.7,0.8,0.9,1,2,3,4,5,6,7,8,9,10,20,30,40,50,60,70,80,90,100,200,300,400,500,600,700,800,900,1000,2000,3000,4000,5000,6000,7000,8000,9000,10000], "tickSize": {"condition": {"test": "indexof([1,10,100,1000,10000], datum.value) >= 0", "value": -7}, "value": -3.5}, "labelExpr": "datum.value == 1 ? '10⁰' : datum.value == 10 ? '10¹' : datum.value == 100 ? '10²' : datum.value == 1000 ? '10³' : datum.value == 10000 ? '10⁴' : ''", "labelPadding": 16, "title": "Lifetime [fs]", "titleFont": "Liberation Sans", "titleFontSize": 19, "titlePadding": 4}},
      "x2": {"datum": 10000},
      "y": {"datum": 0, "type": "quantitative"}}}
   ],
   "resolve": {"axis": {"x": "independent"}}},
  {"width": 358, "height": 185,
   "layer": [
    {"data": {"name": "P"}, "transform": [{"fold": ["g", "t", "h"], "as": ["model", "f"]}],
     "mark": {"type": "line", "interpolate": "monotone", "clip": true},
     "encoding": {
      "x": {"field": "k", "type": "quantitative", "scale": {"domain": [0, 358], "nice": false, "zero": false},
            "axis": {"orient": "bottom", "values": [0,56,98,151,207,263,305,358], "labelExpr": "['Γ','M','K','Γ','A','L','H','A'][indexof([0,56,98,151,207,263,305,358], datum.value)]", "labelFont": {"condition": {"test": "datum.value == 0 || datum.value == 151", "value": "Liberation Serif"}, "value": "Liberation Sans"}, "labelFontSize": 17, "tickSize": -6, "labelPadding": 13, "title": "k [Brillouin zone path]", "titleFont": "Liberation Sans", "titleFontSize": 19, "titlePadding": 4}},
      "y": {"field": "f", "type": "quantitative", "scale": {"domain": [0, 221], "nice": false},
            "axis": {"orient": "left", "values": [0,50,100,150,200], "tickSize": -6, "labelPadding": 10, "title": "ħωₖₐ [meV]", "titleFont": "Liberation Serif", "titleFontStyle": "italic", "titleFontSize": 21, "titlePadding": 10}},
      "detail": {"field": "c"},
      "color": {"field": "model", "type": "nominal", "title": null, "scale": {"domain": ["g","t","h"], "range": ["#000000","#0000ff","#008000"]},
                "legend": {"orient": "none", "legendX": 381, "legendY": 124, "symbolType": "stroke", "symbolSize": 784, "labelFont": "Liberation Sans", "labelFontSize": 18, "labelColor": "black", "labelOffset": 21, "rowPadding": 3, "padding": 0, "labelExpr": "datum.label == 'g' ? 'Graphene' : datum.label == 't' ? 'Graphite' : 'Hetero'"}},
      "strokeDash": {"field": "model", "type": "nominal", "title": null, "scale": {"domain": ["g","t","h"], "range": [[1,0],[9,4],[2.5,4]]},
                "legend": {"orient": "none", "legendX": 381, "legendY": 124, "symbolType": "stroke", "symbolSize": 784, "labelFont": "Liberation Sans", "labelFontSize": 18, "labelColor": "black", "labelOffset": 21, "rowPadding": 3, "padding": 0, "labelExpr": "datum.label == 'g' ? 'Graphene' : datum.label == 't' ? 'Graphite' : 'Hetero'"}},
      "strokeWidth": {"field": "model", "type": "nominal", "title": null, "scale": {"domain": ["g","t","h"], "range": [1.4,2.5,2.5]},
                "legend": {"orient": "none", "legendX": 381, "legendY": 124, "symbolType": "stroke", "symbolSize": 784, "labelFont": "Liberation Sans", "labelFontSize": 18, "labelColor": "black", "labelOffset": 21, "rowPadding": 3, "padding": 0, "labelExpr": "datum.label == 'g' ? 'Graphene' : datum.label == 't' ? 'Graphite' : 'Hetero'"}},
      "order": {"value": null}}},
    {"data": {"name": "P"}, "transform": [{"filter": "datum.k <= 151"}, {"fold": ["g", "t", "h"], "as": ["model", "f"]}],
     "mark": {"type": "line", "interpolate": "monotone", "clip": true},
     "encoding": {
      "x": {"field": "k", "type": "quantitative", "scale": {"domain": [-207, 151], "nice": false, "zero": false}, "axis": null},
      "y": {"field": "f", "type": "quantitative", "scale": {"domain": [0, 221], "nice": false}, "axis": null},
      "detail": {"field": "c"},
      "color": {"field": "model", "type": "nominal", "title": null, "scale": {"domain": ["g","t","h"], "range": ["#000000","#0000ff","#008000"]},
                "legend": {"orient": "none", "legendX": 381, "legendY": 124, "symbolType": "stroke", "symbolSize": 784, "labelFont": "Liberation Sans", "labelFontSize": 18, "labelColor": "black", "labelOffset": 21, "rowPadding": 3, "padding": 0, "labelExpr": "datum.label == 'g' ? 'Graphene' : datum.label == 't' ? 'Graphite' : 'Hetero'"}},
      "strokeDash": {"field": "model", "type": "nominal", "title": null, "scale": {"domain": ["g","t","h"], "range": [[1,0],[9,4],[2.5,4]]},
                "legend": {"orient": "none", "legendX": 381, "legendY": 124, "symbolType": "stroke", "symbolSize": 784, "labelFont": "Liberation Sans", "labelFontSize": 18, "labelColor": "black", "labelOffset": 21, "rowPadding": 3, "padding": 0, "labelExpr": "datum.label == 'g' ? 'Graphene' : datum.label == 't' ? 'Graphite' : 'Hetero'"}},
      "strokeWidth": {"field": "model", "type": "nominal", "title": null, "scale": {"domain": ["g","t","h"], "range": [1.4,2.5,2.5]},
                "legend": {"orient": "none", "legendX": 381, "legendY": 124, "symbolType": "stroke", "symbolSize": 784, "labelFont": "Liberation Sans", "labelFontSize": 18, "labelColor": "black", "labelOffset": 21, "rowPadding": 3, "padding": 0, "labelExpr": "datum.label == 'g' ? 'Graphene' : datum.label == 't' ? 'Graphite' : 'Hetero'"}},
      "order": {"value": null}}},
    {"data": {"values": [{"lab": "(d) Phonons", "k": 178, "f": 139}]}, "mark": {"type": "text", "font": "Liberation Sans", "fontSize": 22, "align": "center", "baseline": "alphabetic", "color": "black"},
     "encoding": {
      "x": {"field": "k", "type": "quantitative", "scale": {"domain": [0, 358], "nice": false, "zero": false}, "axis": {"orient": "top", "values": [56,98,151,207,263,305], "tickSize": -6, "labels": false, "title": null}},
      "y": {"field": "f", "type": "quantitative", "scale": {"domain": [0, 221], "nice": false}, "axis": {"orient": "right", "values": [50,100,150,200], "tickSize": -6, "labels": false, "title": null}},
      "text": {"field": "lab"}}}
   ],
   "resolve": {"scale": {"x": "independent"}, "axis": {"x": "independent", "y": "independent"}}}
]
}
